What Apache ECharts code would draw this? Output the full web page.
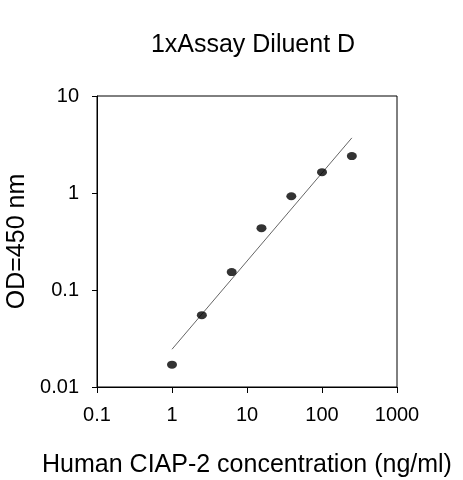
<!DOCTYPE html>
<html>
<head>
<meta charset="utf-8">
<script src="https://cdn.jsdelivr.net/npm/echarts@6/dist/echarts.min.js"></script>
<style>html,body{margin:0;padding:0;background:#fff;}#c{width:463px;height:480px;}</style>
</head>
<body>
<div id="c"></div>
<script>
var titleText = '1xAssay Diluent D';
var xAxisName = 'Human CIAP-2 concentration (ng/ml)';
var yAxisName = 'OD=450 nm';
var concentrations = [1, 2.5, 6.25, 15.6, 39, 100, 250];
var odValues = [0.017, 0.055, 0.153, 0.434, 0.925, 1.64, 2.40];
var fitX = [1, 250];
var fitY = [0.0245, 3.7];

var points = concentrations.map(function (x, i) { return [x, odValues[i]]; });
var fitLine = fitX.map(function (x, i) { return [x, fitY[i]]; });
var FONT = '"Liberation Sans", Arial, sans-serif';
function plain(v) { return String(+v.toPrecision(6)); }

var chart = echarts.init(document.getElementById('c'), null, {renderer: 'canvas'});
chart.setOption({
  animation: false,
  backgroundColor: '#fff',
  title: {
    text: titleText,
    left: 248,
    textAlign: 'center',
    top: 28,
    textStyle: {fontFamily: FONT, fontSize: 25, fontWeight: 'normal', color: '#000'}
  },
  grid: {
    left: 97, right: 66, top: 96, bottom: 93,
    outerBoundsMode: 'none', containLabel: false,
    show: true, borderColor: '#000', borderWidth: 1, backgroundColor: 'transparent'
  },
  xAxis: {
    type: 'log', logBase: 10, min: 0.1, max: 1000,
    name: xAxisName, nameLocation: 'middle', nameGap: 66,
    nameTextStyle: {fontFamily: FONT, fontSize: 25, color: '#000'},
    axisLine: {lineStyle: {color: '#000', width: 1}},
    axisTick: {show: true, inside: false, length: 6, lineStyle: {color: '#000'}},
    minorTick: {show: false},
    splitLine: {show: false},
    axisLabel: {fontFamily: FONT, fontSize: 20, color: '#000', margin: 18, formatter: plain}
  },
  yAxis: {
    type: 'log', logBase: 10, min: 0.01, max: 10,
    name: yAxisName, nameLocation: 'middle', nameGap: 67, nameRotate: 90,
    nameTextStyle: {fontFamily: FONT, fontSize: 25, color: '#000'},
    axisLine: {lineStyle: {color: '#000', width: 1}},
    axisTick: {show: true, inside: false, length: 5, lineStyle: {color: '#000'}},
    minorTick: {show: false},
    splitLine: {show: false},
    axisLabel: {fontFamily: FONT, fontSize: 20, color: '#000', margin: 18, formatter: plain}
  },
  series: [
    {
      type: 'line', data: fitLine, symbol: 'none',
      lineStyle: {color: '#666', width: 1}, z: 2
    },
    {
      type: 'scatter', data: points, symbol: 'circle', symbolSize: [10, 8],
      itemStyle: {color: '#000'}, z: 3
    }
  ]
});
</script>
</body>
</html>
